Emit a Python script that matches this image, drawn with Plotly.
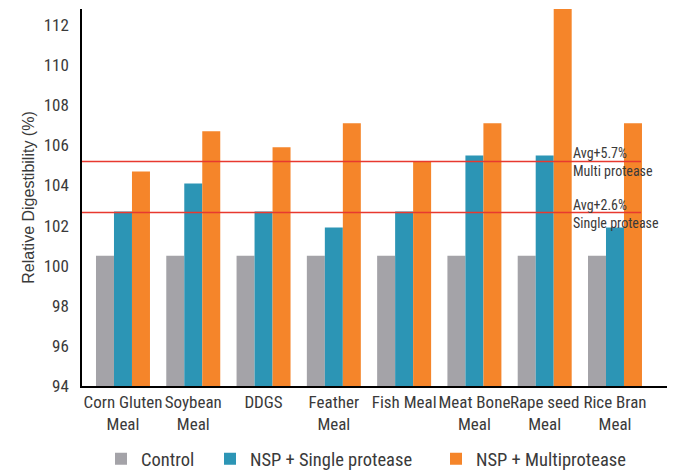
import plotly.graph_objects as go

categories = ["Corn Gluten<br>Meal", "Soybean<br>Meal", "DDGS", "Feather<br>Meal",
              "Fish Meal", "Meat Bone<br>Meal", "Rape seed<br>Meal", "Rice Bran<br>Meal"]
control = [100.5, 100.5, 100.5, 100.5, 100.5, 100.5, 100.5, 100.5]
single = [102.7, 104.1, 102.7, 101.9, 102.7, 105.5, 105.5, 101.9]
multi = [104.7, 106.7, 105.9, 107.1, 105.2, 107.1, 112.8, 107.1]
avg_multi = 105.2
avg_single = 102.65
avg_multi_label = "Avg+5.7%<br>Multi protease"
avg_single_label = "Avg+2.6%<br>Single protease"
y_ticks = [94, 96, 98, 100, 102, 104, 106, 108, 110, 112]

COND = "Roboto Condensed, DejaVu Sans Condensed, Roboto, sans-serif"
TXT = "#3a3a3a"

fig = go.Figure()
fig.add_trace(go.Bar(x=categories, y=control, name="Control", marker_color="#a4a3a8",
                     marker_line_width=0, legend="legend"))
fig.add_trace(go.Bar(x=categories, y=single, name="NSP + Single protease", marker_color="#2c95b5",
                     marker_line_width=0, legend="legend2"))
fig.add_trace(go.Bar(x=categories, y=multi, name="NSP + Multiprotease", marker_color="#f5852a",
                     marker_line_width=0, legend="legend3"))

x_end = 7.37
for yv, label in [(avg_multi, avg_multi_label), (avg_single, avg_single_label)]:
    fig.add_shape(type="line", xref="x", yref="y", x0=-0.583, x1=x_end, y0=yv, y1=yv,
                  line=dict(color="#e8392f", width=1.5), layer="above")
    fig.add_annotation(x=6.373, y=yv, xref="x", yref="y", text=label, showarrow=False,
                       xanchor="left", yanchor="middle", align="left", yshift=-1,
                       font=dict(family=COND, size=14, color=TXT))

def leg(xpx):
    return dict(orientation="h", xref="container", yref="container",
                x=xpx / 675, xanchor="left", y=0.027, yanchor="middle",
                font=dict(family=COND, size=18.5, color=TXT), itemwidth=30,
                bgcolor="rgba(0,0,0,0)")

fig.update_layout(
    width=675, height=472,
    margin=dict(l=82, r=8, t=9, b=86, autoexpand=False),
    paper_bgcolor="white", plot_bgcolor="white",
    barmode="group", bargap=0.232, bargroupgap=0,
    font=dict(family=COND, color=TXT),
    showlegend=True,
    legend=leg(101), legend2=leg(210), legend3=leg(436),
    xaxis=dict(range=[-0.583, 7.74], showline=True, linecolor="black", linewidth=1.5,
               ticks="", tickangle=0, tickfont=dict(family=COND, size=17, color=TXT),
               showgrid=False),
    yaxis=dict(range=[94, 112.8], tickvals=y_ticks, showline=True, linecolor="black",
               linewidth=1.5, ticks="", showgrid=False, zeroline=False,
               ticklabelstandoff=8,
               tickfont=dict(family=COND, size=17, color=TXT),
               title=dict(text="Relative Digestibility (%)", standoff=5,
                          font=dict(family="Liberation Sans, Arial, sans-serif", size=16, color=TXT))),
)

fig.write_html("out.html")
